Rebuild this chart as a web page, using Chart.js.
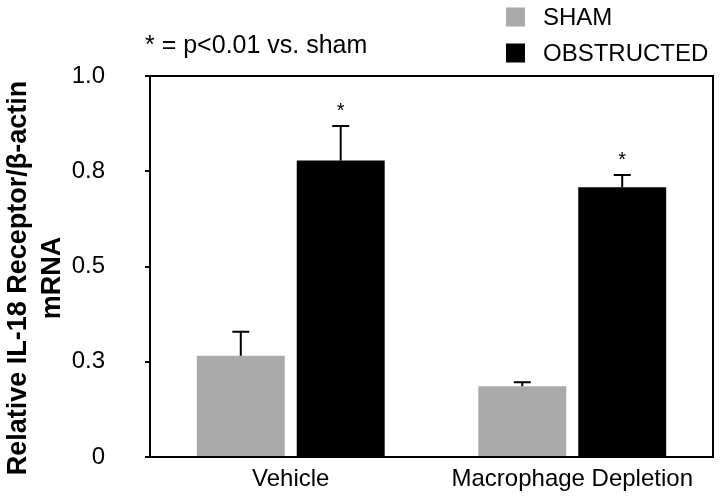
<!DOCTYPE html>
<html>
<head>
<meta charset="utf-8">
<script src="https://cdn.jsdelivr.net/npm/chart.js@4/dist/chart.umd.min.js"></script>
<style>
  body { margin: 0; background: #fff; }
</style>
</head>
<body>
<canvas id="bars" width="721" height="504"></canvas>
<script>
const categories = ['Vehicle', 'Macrophage Depletion']
const seriesNames = ['SHAM', 'OBSTRUCTED']
const seriesColors = ['#aaaaaa', '#000000']
// mean values
const shamValues = [0.266, 0.186]
const shamErrors = [0.063, 0.010]
const obstructedValues = [0.778, 0.708]
const obstructedErrors = [0.091, 0.032]
// which obstructed bars get the star
const obstructedStars = [true, true]
const tickValues = [0, 0.25, 0.5, 0.75, 1]
const tickLabels = ['0', '0.3', '0.5', '0.8', '1.0']
const yTitle = ['Relative IL-18 Receptor/β-actin', 'mRNA']
const note = '* = p<0.01 vs. sham'

const FONT = '"Liberation Sans", Arial, Helvetica, sans-serif'

// error bars, stars, box, legend, note and y title
const extras = {
  id: 'extras',
  afterDatasetsDraw(chart) {
    const ctx = chart.ctx
    const y = chart.scales.y
    const errs = [shamErrors, obstructedErrors]
    ctx.save()
    ctx.strokeStyle = '#000'
    ctx.lineWidth = 2
    chart.data.datasets.forEach((ds, di) => {
      const meta = chart.getDatasetMeta(di)
      meta.data.forEach((bar, i) => {
        const top = y.getPixelForValue(ds.data[i] + errs[di][i])
        ctx.beginPath()
        ctx.moveTo(bar.x, bar.y)
        ctx.lineTo(bar.x, top)
        ctx.moveTo(bar.x - 8.5, top)
        ctx.lineTo(bar.x + 8.5, top)
        ctx.stroke()
        if (di === 1 && obstructedStars[i]) {
          ctx.fillStyle = '#000'
          ctx.font = '20px ' + FONT
          ctx.textAlign = 'center'
          ctx.textBaseline = 'alphabetic'
          ctx.fillText('*', bar.x, top - 9)
        }
      })
    })
    const a = chart.chartArea
    ctx.strokeRect(a.left, a.top, a.right - a.left, a.bottom - a.top)
    ctx.restore()
  },
  afterDraw(chart) {
    const ctx = chart.ctx
    ctx.save()
    ctx.textBaseline = 'middle'
    ctx.textAlign = 'left'
    ctx.font = '24px ' + FONT
    const rows = [17, 53]
    seriesNames.forEach((name, i) => {
      ctx.fillStyle = seriesColors[i]
      ctx.fillRect(506, rows[i] - 9.5, 19, 19)
      ctx.fillStyle = '#000'
      ctx.fillText(name, 543, rows[i] + 1)
    })
    ctx.font = '25px ' + FONT
    ctx.fillText(note, 145, 46)

    // rotated axis title
    ctx.translate(0, 278)
    ctx.rotate(-Math.PI / 2)
    ctx.font = 'bold 27px ' + FONT
    ctx.textAlign = 'center'
    ctx.textBaseline = 'alphabetic'
    ctx.fillText(yTitle[0], 0, 26)
    ctx.fillText(yTitle[1], 0, 60)
    ctx.restore()
  }
}

new Chart(document.getElementById('bars').getContext('2d'), {
  type: 'bar',
  data: {
    labels: categories,
    datasets: [
      { label: seriesNames[0], data: shamValues, backgroundColor: seriesColors[0] },
      { label: seriesNames[1], data: obstructedValues, backgroundColor: seriesColors[1] }
    ]
  },
  options: {
    responsive: false,
    animation: false,
    layout: { padding: { top: 76, right: 8, bottom: 0, left: 0 } },
    categoryPercentage: 0.71,
    barPercentage: 0.88,
    plugins: {
      legend: { display: false },
      tooltip: { enabled: false }
    },
    scales: {
      x: {
        grid: { display: false },
        border: { color: '#000', width: 2 },
        ticks: {
          color: '#000',
          padding: 0,
          maxRotation: 0,
          font: { family: FONT, size: 24 }
        },
        afterFit: (s) => { s.height = 47 }
      },
      y: {
        min: 0,
        max: 1,
        afterBuildTicks: (s) => { s.ticks = tickValues.map(v => ({ value: v })) },
        grid: {
          drawOnChartArea: false,
          drawTicks: true,
          tickLength: 5,
          color: '#000',
          lineWidth: 2
        },
        border: { color: '#000', width: 2 },
        ticks: {
          color: '#000',
          padding: 40,
          font: { family: FONT, size: 24 },
          callback: (v, i) => tickLabels[i]
        },
        afterFit: (s) => {
          s.width = 150
          // the big label gap would otherwise be added above and below the axis
          s.paddingTop = 0
          s.paddingBottom = 0
        }
      }
    }
  },
  plugins: [extras]
})
</script>
</body>
</html>
